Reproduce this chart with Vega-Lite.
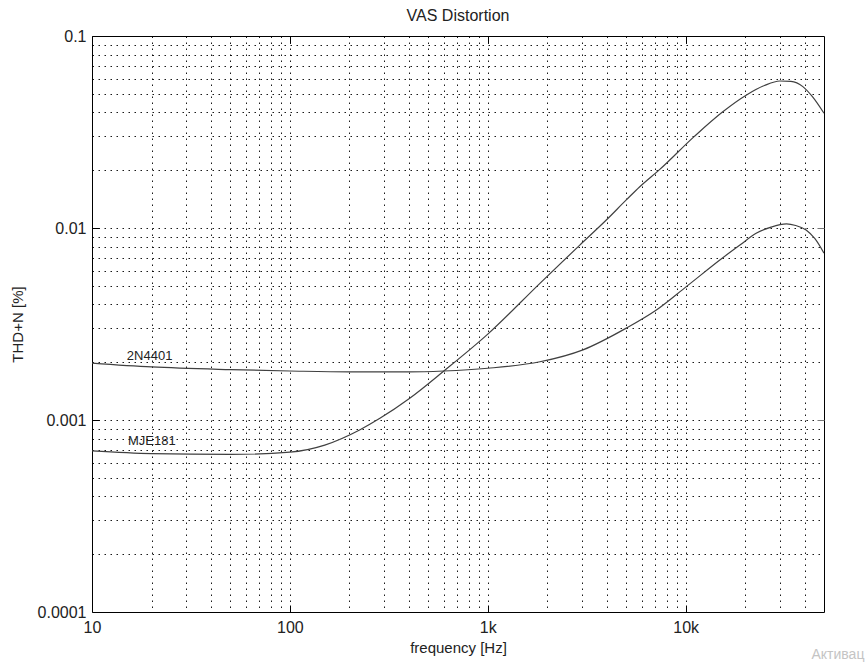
{
  "$schema": "https://vega.github.io/schema/vega-lite/v6.json",
  "width": 732,
  "height": 576,
  "autosize": {"type": "none"},
  "padding": {"left": 92, "top": 36, "right": 43, "bottom": 56},
  "background": "white",
  "title": {"text": "VAS Distortion", "fontSize": 16, "fontWeight": "normal", "font": "Liberation Sans", "color": "#222222", "offset": 4},
  "config": {
    "view": {"stroke": "black", "strokeWidth": 1},
    "axis": {
      "labelFont": "Liberation Sans",
      "labelFontSize": 16,
      "labelColor": "#222222",
      "titleFont": "Liberation Sans",
      "titleFontSize": 15,
      "titleFontWeight": "normal",
      "titleColor": "#222222",
      "domain": false,
      "gridColor": "black",
      "gridDash": [1.5, 4.5],
      "gridWidth": 1,
      "gridOpacity": 0.9,
      "tickColor": "black",
      "labelOverlap": false,
      "labelFlush": false,
      "labelBound": false
    }
  },
  "datasets": {
    "curves": [
      {"device": "2N4401", "f": 10, "v": 0.00198},
      {"device": "2N4401", "f": 20, "v": 0.00189},
      {"device": "2N4401", "f": 50, "v": 0.00183},
      {"device": "2N4401", "f": 100, "v": 0.0018},
      {"device": "2N4401", "f": 200, "v": 0.00178},
      {"device": "2N4401", "f": 400, "v": 0.00178},
      {"device": "2N4401", "f": 600, "v": 0.0018},
      {"device": "2N4401", "f": 1000, "v": 0.00186},
      {"device": "2N4401", "f": 1834, "v": 0.00201},
      {"device": "2N4401", "f": 3027, "v": 0.00232},
      {"device": "2N4401", "f": 5010, "v": 0.00301},
      {"device": "2N4401", "f": 7110, "v": 0.00374},
      {"device": "2N4401", "f": 10070, "v": 0.00495},
      {"device": "2N4401", "f": 15400, "v": 0.007},
      {"device": "2N4401", "f": 18800, "v": 0.00815},
      {"device": "2N4401", "f": 22700, "v": 0.00938},
      {"device": "2N4401", "f": 27000, "v": 0.0101},
      {"device": "2N4401", "f": 32300, "v": 0.0105},
      {"device": "2N4401", "f": 36000, "v": 0.0103},
      {"device": "2N4401", "f": 40600, "v": 0.00977},
      {"device": "2N4401", "f": 45000, "v": 0.0088},
      {"device": "2N4401", "f": 50000, "v": 0.0074},
      {"device": "MJE181", "f": 10, "v": 0.00069},
      {"device": "MJE181", "f": 20, "v": 0.000668},
      {"device": "MJE181", "f": 50, "v": 0.000662},
      {"device": "MJE181", "f": 100, "v": 0.00068},
      {"device": "MJE181", "f": 150, "v": 0.00074},
      {"device": "MJE181", "f": 225, "v": 0.000887},
      {"device": "MJE181", "f": 285, "v": 0.00102},
      {"device": "MJE181", "f": 400, "v": 0.00129},
      {"device": "MJE181", "f": 600, "v": 0.0018},
      {"device": "MJE181", "f": 1000, "v": 0.0028},
      {"device": "MJE181", "f": 1834, "v": 0.00515},
      {"device": "MJE181", "f": 2917, "v": 0.00815},
      {"device": "MJE181", "f": 3971, "v": 0.011},
      {"device": "MJE181", "f": 5010, "v": 0.014},
      {"device": "MJE181", "f": 5861, "v": 0.0164},
      {"device": "MJE181", "f": 7400, "v": 0.0202},
      {"device": "MJE181", "f": 11100, "v": 0.0301},
      {"device": "MJE181", "f": 15400, "v": 0.0403},
      {"device": "MJE181", "f": 20300, "v": 0.0493},
      {"device": "MJE181", "f": 25000, "v": 0.0552},
      {"device": "MJE181", "f": 29900, "v": 0.0583},
      {"device": "MJE181", "f": 34000, "v": 0.058},
      {"device": "MJE181", "f": 39100, "v": 0.0545},
      {"device": "MJE181", "f": 43700, "v": 0.0483},
      {"device": "MJE181", "f": 50000, "v": 0.0396}
    ],
    "labels": [
      {"f": 15, "v": 0.00216, "label": "2N4401"},
      {"f": 15.2, "v": 0.000778, "label": "MJE181"}
    ],
    "watermark": [
      {"f": 80000, "v": 0.0000597, "label": "Активац"}
    ]
  },
  "resolve": {"axis": {"x": "independent", "y": "independent"}},
  "layer": [
    {
      "data": {"name": "curves"},
      "mark": {"type": "line", "color": "#404040", "strokeWidth": 1.2, "interpolate": "monotone", "clip": true},
      "encoding": {
        "x": {
          "field": "f", "type": "quantitative",
          "scale": {"type": "log", "domain": [10, 50000], "nice": false},
          "title": "frequency [Hz]",
          "axis": {
            "orient": "bottom",
            "values": [10,20,30,40,50,60,70,80,90,100,200,300,400,500,600,700,800,900,1000,2000,3000,4000,5000,6000,7000,8000,9000,10000,20000,30000,40000],
            "grid": true,
            "labelExpr": "datum.value==10?'10':datum.value==100?'100':datum.value==1000?'1k':datum.value==10000?'10k':''",
            "tickSize": -7,
            "tickOpacity": {"condition": {"test": "indexof([100,1000,10000], datum.value) >= 0", "value": 1}, "value": 0},
            "labelPadding": 14,
            "titlePadding": 5
          }
        },
        "y": {
          "field": "v", "type": "quantitative",
          "scale": {"type": "log", "domain": [0.0001, 0.1], "nice": false},
          "title": "THD+N [%]",
          "axis": {
            "orient": "left",
            "values": [0.0001,0.0002,0.0003,0.0004,0.0005,0.0006,0.0007,0.0008,0.0009,0.001,0.002,0.003,0.004,0.005,0.006,0.007,0.008,0.009,0.01,0.02,0.03,0.04,0.05,0.06,0.07,0.08,0.09,0.1],
            "grid": true,
            "labelExpr": "indexof([0.1,0.01,0.001,0.0001], datum.value) >= 0 ? toString(datum.value) : ''",
            "tickSize": -7,
            "tickOpacity": {"condition": {"test": "indexof([0.01,0.001], datum.value) >= 0", "value": 1}, "value": 0},
            "labelPadding": 13,
            "titlePadding": 12
          }
        },
        "detail": {"field": "device", "type": "nominal"}
      }
    },
    {
      "data": {"name": "labels"},
      "mark": {"type": "text", "align": "left", "baseline": "middle", "font": "Liberation Sans", "fontSize": 13, "color": "#222222"},
      "encoding": {
        "x": {
          "field": "f", "type": "quantitative",
          "scale": {"type": "log", "domain": [10, 50000], "nice": false},
          "axis": {
            "orient": "top", "labels": false, "grid": false, "title": null,
            "values": [100, 1000, 10000],
            "tickSize": -7
          }
        },
        "y": {
          "field": "v", "type": "quantitative",
          "scale": {"type": "log", "domain": [0.0001, 0.1], "nice": false},
          "axis": {
            "orient": "right", "labels": false, "grid": false, "title": null,
            "values": [0.01, 0.001],
            "tickSize": -7,
            "tickColor": "#777777"
          }
        },
        "text": {"field": "label", "type": "nominal"}
      }
    },
    {
      "data": {"name": "watermark"},
      "mark": {"type": "text", "align": "right", "baseline": "middle", "font": "Liberation Sans", "fontSize": 14, "color": "#c4c4c4"},
      "encoding": {
        "x": {"field": "f", "type": "quantitative", "scale": {"type": "log", "domain": [10, 50000], "nice": false}, "axis": null},
        "y": {"field": "v", "type": "quantitative", "scale": {"type": "log", "domain": [0.0001, 0.1], "nice": false}, "axis": null},
        "text": {"field": "label", "type": "nominal"}
      }
    }
  ]
}
